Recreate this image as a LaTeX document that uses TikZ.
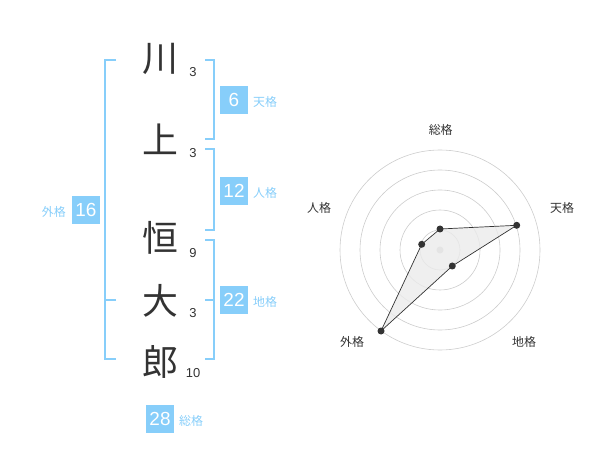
\documentclass[tikz,border=0pt]{standalone}
\usepackage{fontspec}
\usetikzlibrary{calc}
\setmainfont{Liberation Sans}
\newfontfamily\jp{Noto Sans CJK JP}
\definecolor{sky}{HTML}{87CEFA}
\definecolor{ink}{HTML}{333333}
\definecolor{gridc}{HTML}{CCCCCC}
\begin{document}
\begin{tikzpicture}[x=1bp,y=-1bp,
  kanji/.style={font=\jp\fontsize{36}{36}\selectfont,text=ink,inner sep=0pt},
  strokes/.style={font=\fontsize{13}{13}\selectfont,text=ink,inner sep=0pt},
  numbox/.style={fill=sky,text=white,minimum width=28bp,minimum height=28bp,inner sep=0pt,font=\fontsize{19}{19}\selectfont},
  lab/.style={text=sky,font=\jp\fontsize{12}{12}\selectfont,inner sep=0pt},
  brk/.style={draw=sky,line width=1.5bp},
  rlab/.style={text=ink,font=\jp\fontsize{12}{12}\selectfont,inner sep=0pt},
  ring/.style={draw=gridc,line width=0.6bp},
  dot/.style={circle,fill=ink,minimum size=7bp,inner sep=0pt}]
\useasboundingbox (0,0) rectangle (600,470);
% kanji
\node[kanji] (k1) at (160,59) {川};
\node[kanji] (k2) at (160,139) {上};
\node[kanji] (k3) at (160,238) {恒};
\node[kanji] (k4) at (160,301) {大};
\node[kanji] (k5) at (160,362) {郎};
\node[strokes] (s1) at (193,72) {3};
\node[strokes] (s2) at (193,153) {3};
\node[strokes] (s3) at (193,253) {9};
\node[strokes] (s4) at (193,313) {3};
\node[strokes] (s5) at (193,373) {10};
% brackets
\coordinate (La) at (116,60); \coordinate (Lb) at (116,359); \coordinate (Lm) at (116,300);
\draw[brk] (La) -- (105,60) -- (105,359) -- (Lb);
\draw[brk] (Lm) -- (105,300);
\coordinate (T1) at (205,60); \coordinate (T2) at (205,139);
\draw[brk] (T1) -- (214,60) -- (214,139) -- (T2);
\coordinate (P1) at (205,149); \coordinate (P2) at (205,230);
\draw[brk] (P1) -- (214,149) -- (214,230) -- (P2);
\coordinate (E1) at (205,240); \coordinate (E2) at (205,359); \coordinate (Em) at (205,300);
\draw[brk] (E1) -- (214,240) -- (214,359) -- (E2);
\draw[brk] (Em) -- (214,300);
% boxes
\node[numbox] (b6) at (234,100) {6};
\node[lab,anchor=west] (l6) at (253,102) {天格};
\node[numbox] (b12) at (234,191) {12};
\node[lab,anchor=west] (l12) at (253,193) {人格};
\node[numbox] (b22) at (234,300) {22};
\node[lab,anchor=west] (l22) at (253,302) {地格};
\node[numbox] (b16) at (86,210) {16};
\node[lab,anchor=east] (l16) at (66,212) {外格};
\node[numbox] (b28) at (160,419) {28};
\node[lab,anchor=west] (l28) at (179,421) {総格};
% radar
\coordinate (C) at (440,250);
\foreach \r in {20,40,60,80,100} \draw[ring] (C) circle[radius=\r];
\fill[gridc] (C) circle[radius=3.5];
\coordinate (p1) at ($(C)+(0,-21)$);
\coordinate (p2) at (516.7,225.3);
\coordinate (p3) at (452.3,266);
\coordinate (p4) at (381,331);
\coordinate (p5) at (421.7,244.3);
\filldraw[fill=black!8,fill opacity=0.8,draw=ink,line width=0.7bp] (p1) -- (p2) -- (p3) -- (p4) -- (p5) -- cycle;
\foreach \p in {p1,p2,p3,p4,p5} \node[dot] at (\p) {};
\node[rlab] (r1) at (440.7,130) {総格};
\node[rlab] (r2) at (562,208) {天格};
\node[rlab] (r3) at (319,208) {人格};
\node[rlab] (r4) at (352,342) {外格};
\node[rlab] (r5) at (524,342) {地格};
\end{tikzpicture}
\end{document}
